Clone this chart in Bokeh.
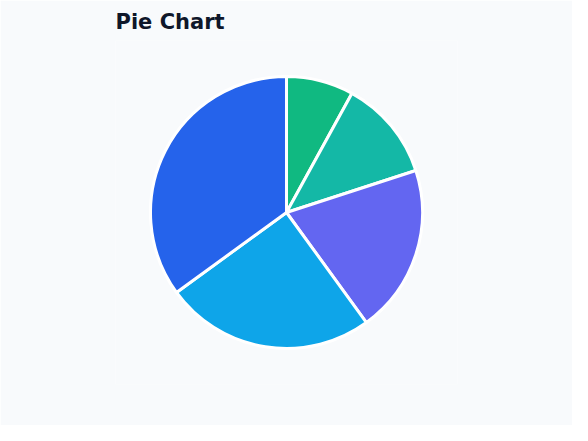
import math
from bokeh.plotting import figure
from bokeh.models import ColumnDataSource
from bokeh.embed import file_html
from bokeh.resources import INLINE

categories = ["A", "B", "C", "D", "E"]
values = [8, 12, 20, 25, 35]
colors = ["#10b981", "#14b8a6", "#6366f1", "#0ea5e9", "#2563eb"]

total = sum(values)
starts, ends = [], []
acc = 0.0
for v in values:
    a0 = math.pi / 2 - 2 * math.pi * acc / total
    acc += v
    a1 = math.pi / 2 - 2 * math.pi * acc / total
    starts.append(a0)
    ends.append(a1)

src = ColumnDataSource(dict(cat=categories, val=values, start=starts, end=ends, color=colors))

BG = "#f8fafc"
p = figure(width=572, height=425, output_backend="svg", toolbar_location=None,
           x_range=(-171, 171), y_range=(-172, 172),
           min_border_left=115, min_border_right=115, min_border_top=40, min_border_bottom=41,
           title="Pie Chart")
p.wedge(x=0, y=0, radius=136, start_angle="start", end_angle="end", direction="clock",
        fill_color="color", line_color="white", line_width=3, source=src)
p.axis.visible = False
p.grid.visible = False
p.outline_line_color = None
p.background_fill_color = BG
p.border_fill_color = BG
p.title.text_font = "DejaVu Sans"
p.title.text_font_size = "21px"
p.title.text_font_style = "bold"
p.title.text_color = "#0f172a"
p.title.standoff = 13

open("out.html", "w").write(file_html(p, INLINE))
